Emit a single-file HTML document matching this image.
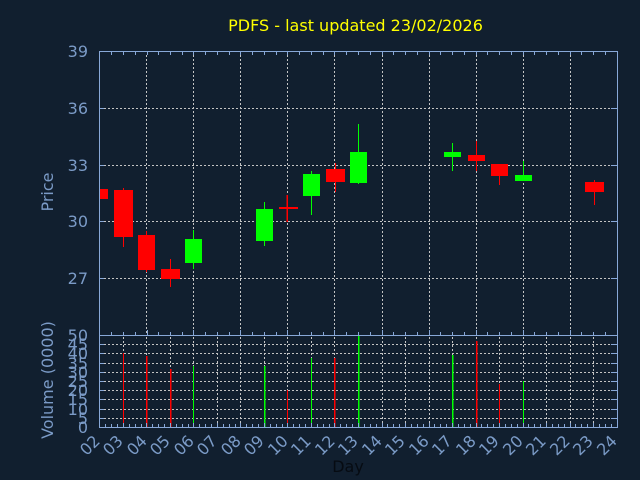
<!DOCTYPE html>
<html><head><meta charset="utf-8"><style>
html,body{margin:0;padding:0;background:#111f2f;}
svg{display:block;}
text{font-family:"DejaVu Sans","Liberation Sans",sans-serif;}
</style></head><body>
<svg width="640" height="480" viewBox="0 0 640 480" xmlns="http://www.w3.org/2000/svg">
<rect x="0" y="0" width="640" height="480" fill="#111f2f"/>
<text x="355.5" y="31" font-size="16" fill="#ffff00" text-anchor="middle">PDFS - last updated 23/02/2026</text>

<g stroke="#c4c4c4" stroke-width="1" stroke-dasharray="2,2" fill="none">
<line x1="104" y1="108.5" x2="612" y2="108.5"/>
<line x1="104" y1="165.5" x2="612" y2="165.5"/>
<line x1="104" y1="221.5" x2="612" y2="221.5"/>
<line x1="104" y1="278.5" x2="612" y2="278.5"/>
<line x1="146.5" y1="55" x2="146.5" y2="335"/>
<line x1="193.5" y1="55" x2="193.5" y2="335"/>
<line x1="240.5" y1="55" x2="240.5" y2="335"/>
<line x1="287.5" y1="55" x2="287.5" y2="335"/>
<line x1="334.5" y1="55" x2="334.5" y2="335"/>
<line x1="382.5" y1="55" x2="382.5" y2="335"/>
<line x1="429.5" y1="55" x2="429.5" y2="335"/>
<line x1="476.5" y1="55" x2="476.5" y2="335"/>
<line x1="523.5" y1="55" x2="523.5" y2="335"/>
<line x1="570.5" y1="55" x2="570.5" y2="335"/>
<line x1="104" y1="344.5" x2="612" y2="344.5"/>
<line x1="104" y1="353.5" x2="612" y2="353.5"/>
<line x1="104" y1="363.5" x2="612" y2="363.5"/>
<line x1="104" y1="372.5" x2="612" y2="372.5"/>
<line x1="104" y1="381.5" x2="612" y2="381.5"/>
<line x1="104" y1="390.5" x2="612" y2="390.5"/>
<line x1="104" y1="399.5" x2="612" y2="399.5"/>
<line x1="104" y1="409.5" x2="612" y2="409.5"/>
<line x1="104" y1="418.5" x2="612" y2="418.5"/>
<line x1="123.5" y1="337" x2="123.5" y2="427"/>
<line x1="146.5" y1="337" x2="146.5" y2="427"/>
<line x1="170.5" y1="337" x2="170.5" y2="427"/>
<line x1="193.5" y1="337" x2="193.5" y2="427"/>
<line x1="217.5" y1="337" x2="217.5" y2="427"/>
<line x1="240.5" y1="337" x2="240.5" y2="427"/>
<line x1="264.5" y1="337" x2="264.5" y2="427"/>
<line x1="287.5" y1="337" x2="287.5" y2="427"/>
<line x1="311.5" y1="337" x2="311.5" y2="427"/>
<line x1="334.5" y1="337" x2="334.5" y2="427"/>
<line x1="358.5" y1="337" x2="358.5" y2="427"/>
<line x1="382.5" y1="337" x2="382.5" y2="427"/>
<line x1="405.5" y1="337" x2="405.5" y2="427"/>
<line x1="429.5" y1="337" x2="429.5" y2="427"/>
<line x1="452.5" y1="337" x2="452.5" y2="427"/>
<line x1="476.5" y1="337" x2="476.5" y2="427"/>
<line x1="499.5" y1="337" x2="499.5" y2="427"/>
<line x1="523.5" y1="337" x2="523.5" y2="427"/>
<line x1="546.5" y1="337" x2="546.5" y2="427"/>
<line x1="570.5" y1="337" x2="570.5" y2="427"/>
<line x1="593.5" y1="337" x2="593.5" y2="427"/>
</g>

<g fill="#ff0000" stroke="none">
<rect x="100" y="189" width="8" height="10"/>
<rect x="123" y="188" width="1" height="59"/><rect x="114" y="190" width="19" height="47"/>
<rect x="146" y="231" width="1" height="41"/><rect x="138" y="235" width="17" height="35"/>
<rect x="170" y="259" width="1" height="28"/><rect x="161" y="269" width="19" height="10"/>
<rect x="286.5" y="195" width="1.5" height="27"/><rect x="279" y="207" width="19" height="2"/>
<rect x="335" y="163" width="1" height="29"/><rect x="326" y="169" width="19" height="13"/>
<rect x="476" y="141" width="1" height="30"/><rect x="468" y="155" width="17" height="6"/>
<rect x="499" y="164" width="1" height="21"/><rect x="491" y="164" width="17" height="12"/>
<rect x="594" y="180" width="1" height="25"/><rect x="585" y="182" width="19" height="10"/>
</g>
<g fill="#00ff00" stroke="none">
<rect x="193" y="230" width="1" height="39"/><rect x="185" y="239" width="17" height="24"/>
<rect x="264" y="202" width="1" height="44"/><rect x="256" y="209" width="17" height="32"/>
<rect x="311" y="171" width="1" height="44"/><rect x="303" y="174" width="17" height="22"/>
<rect x="358" y="124" width="1" height="60"/><rect x="350" y="152" width="17" height="31"/>
<rect x="452" y="143" width="1" height="28"/><rect x="444" y="152" width="17" height="5"/>
<rect x="523" y="161" width="1" height="20"/><rect x="515" y="175" width="17" height="6"/>
</g>

<g fill="#ff0000">
<rect x="123" y="353" width="1" height="74"/>
<rect x="146" y="356" width="1.5" height="71"/>
<rect x="170" y="369" width="1.5" height="58"/>
<rect x="287" y="390" width="1" height="37"/>
<rect x="334" y="358" width="1.5" height="69"/>
<rect x="476" y="341" width="1.5" height="86"/>
<rect x="499" y="384" width="1" height="43"/>
</g>
<g fill="#00ff00">
<rect x="193" y="366" width="1" height="61"/>
<rect x="264" y="366" width="1.5" height="61"/>
<rect x="311" y="358" width="1" height="69"/>
<rect x="358" y="335" width="1.5" height="92"/>
<rect x="452" y="355" width="1.5" height="72"/>
<rect x="523" y="381" width="1" height="46"/>
</g>

<g stroke="#88a8d8" stroke-width="1" fill="none">
<rect x="99.5" y="51.5" width="518" height="284"/>
<rect x="99.5" y="335.5" width="518" height="92"/>
<path d="M100 108.5h4M100 165.5h4M100 221.5h4M100 278.5h4M617 108.5h-6M617 165.5h-6M617 221.5h-6M617 278.5h-6"/>
<path d="M100 344.5h4M100 353.5h4M100 363.5h4M100 372.5h4M100 381.5h4M100 390.5h4M100 399.5h4M100 409.5h4M100 418.5h4
M617 344.5h-6M617 353.5h-6M617 363.5h-6M617 372.5h-6M617 381.5h-6M617 390.5h-6M617 399.5h-6M617 409.5h-6M617 418.5h-6"/>
<path d="M111.5 52v3M123.5 52v3M135.5 52v3M147.5 52v3M158.5 52v3M170.5 52v3M182.5 52v3M193.5 52v3M205.5 52v3M217.5 52v3M229.5 52v3M240.5 52v3M252.5 52v3M264.5 52v3M276.5 52v3M287.5 52v3M299.5 52v3M311.5 52v3M323.5 52v3M334.5 52v3M346.5 52v3M358.5 52v3M370.5 52v3M382.5 52v3M393.5 52v3M405.5 52v3M417.5 52v3M429.5 52v3M440.5 52v3M452.5 52v3M464.5 52v3M476.5 52v3M487.5 52v3M499.5 52v3M511.5 52v3M523.5 52v3M534.5 52v3M546.5 52v3M558.5 52v3M570.5 52v3M581.5 52v3M593.5 52v3M605.5 52v3"/>
<path d="M111.5 335v-3M123.5 335v-3M135.5 335v-3M147.5 335v-5M158.5 335v-3M170.5 335v-3M182.5 335v-3M193.5 335v-5M205.5 335v-3M217.5 335v-3M229.5 335v-3M240.5 335v-5M252.5 335v-3M264.5 335v-3M276.5 335v-3M287.5 335v-5M299.5 335v-3M311.5 335v-3M323.5 335v-3M334.5 335v-5M346.5 335v-3M358.5 335v-3M370.5 335v-3M382.5 335v-5M393.5 335v-3M405.5 335v-3M417.5 335v-3M429.5 335v-5M440.5 335v-3M452.5 335v-3M464.5 335v-3M476.5 335v-5M487.5 335v-3M499.5 335v-3M511.5 335v-3M523.5 335v-5M534.5 335v-3M546.5 335v-3M558.5 335v-3M570.5 335v-5M581.5 335v-3M593.5 335v-3M605.5 335v-3"/>
<path d="M105.5 427v-3M111.5 427v-3M117.5 427v-3M123.5 427v-4M129.5 427v-3M135.5 427v-3M141.5 427v-3M146.5 427v-4M152.5 427v-3M158.5 427v-3M164.5 427v-3M170.5 427v-4M176.5 427v-3M182.5 427v-3M188.5 427v-3M193.5 427v-4M199.5 427v-3M205.5 427v-3M211.5 427v-3M217.5 427v-4M223.5 427v-3M229.5 427v-3M235.5 427v-3M240.5 427v-4M246.5 427v-3M252.5 427v-3M258.5 427v-3M264.5 427v-4M270.5 427v-3M276.5 427v-3M282.5 427v-3M287.5 427v-4M293.5 427v-3M299.5 427v-3M305.5 427v-3M311.5 427v-4M317.5 427v-3M323.5 427v-3M329.5 427v-3M334.5 427v-4M340.5 427v-3M346.5 427v-3M352.5 427v-3M358.5 427v-4M364.5 427v-3M370.5 427v-3M376.5 427v-3M382.5 427v-4M387.5 427v-3M393.5 427v-3M399.5 427v-3M405.5 427v-4M411.5 427v-3M417.5 427v-3M423.5 427v-3M429.5 427v-4M434.5 427v-3M440.5 427v-3M446.5 427v-3M452.5 427v-4M458.5 427v-3M464.5 427v-3M470.5 427v-3M476.5 427v-4M481.5 427v-3M487.5 427v-3M493.5 427v-3M499.5 427v-4M505.5 427v-3M511.5 427v-3M517.5 427v-3M523.5 427v-4M528.5 427v-3M534.5 427v-3M540.5 427v-3M546.5 427v-4M552.5 427v-3M558.5 427v-3M564.5 427v-3M570.5 427v-4M575.5 427v-3M581.5 427v-3M587.5 427v-3M593.5 427v-4M599.5 427v-3M605.5 427v-3M611.5 427v-3"/>
</g>

<g font-size="16" fill="#7b9bc7" text-anchor="end">
<text x="88" y="57">39</text>
<text x="88" y="114">36</text>
<text x="88" y="171">33</text>
<text x="88" y="227">30</text>
<text x="88" y="284">27</text>
</g>
<g font-size="16" fill="#7b9bc7" text-anchor="end">
<text x="88" y="341">50</text>
<text x="88" y="350">45</text>
<text x="88" y="359">40</text>
<text x="88" y="369">35</text>
<text x="88" y="378">30</text>
<text x="88" y="387">25</text>
<text x="88" y="396">20</text>
<text x="88" y="405">15</text>
<text x="88" y="415">10</text>
<text x="88" y="424">5</text>
<text x="88" y="433">0</text>
</g>
<text transform="translate(53,192) rotate(-90)" font-size="16" fill="#7b9bc7" text-anchor="middle">Price</text>
<text transform="translate(53,380) rotate(-90)" font-size="16" fill="#7b9bc7" text-anchor="middle">Volume (0000)</text>

<g font-size="16" fill="#7b9bc7" text-anchor="end">
<text transform="translate(101,442) rotate(-45)">02</text>
<text transform="translate(124,442) rotate(-45)">03</text>
<text transform="translate(148,442) rotate(-45)">04</text>
<text transform="translate(171,442) rotate(-45)">05</text>
<text transform="translate(195,442) rotate(-45)">06</text>
<text transform="translate(218,442) rotate(-45)">07</text>
<text transform="translate(242,442) rotate(-45)">08</text>
<text transform="translate(265,442) rotate(-45)">09</text>
<text transform="translate(289,442) rotate(-45)">10</text>
<text transform="translate(312,442) rotate(-45)">11</text>
<text transform="translate(336,442) rotate(-45)">12</text>
<text transform="translate(359,442) rotate(-45)">13</text>
<text transform="translate(383,442) rotate(-45)">14</text>
<text transform="translate(406,442) rotate(-45)">15</text>
<text transform="translate(430,442) rotate(-45)">16</text>
<text transform="translate(453,442) rotate(-45)">17</text>
<text transform="translate(477,442) rotate(-45)">18</text>
<text transform="translate(500,442) rotate(-45)">19</text>
<text transform="translate(524,442) rotate(-45)">20</text>
<text transform="translate(547,442) rotate(-45)">21</text>
<text transform="translate(571,442) rotate(-45)">22</text>
<text transform="translate(594,442) rotate(-45)">23</text>
<text transform="translate(618,442) rotate(-45)">24</text>
</g>
<text x="348" y="472" font-size="16" fill="#060b12" text-anchor="middle">Day</text>
</svg>
</body></html>
